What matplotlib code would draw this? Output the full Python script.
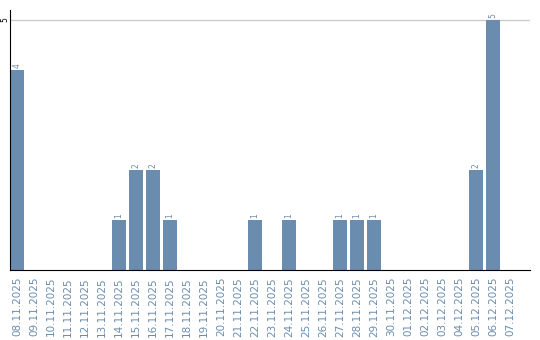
import matplotlib.pyplot as plt
import numpy as np

dates = ["08.11.2025", "09.11.2025", "10.11.2025", "11.11.2025", "12.11.2025",
         "13.11.2025", "14.11.2025", "15.11.2025", "16.11.2025", "17.11.2025",
         "18.11.2025", "19.11.2025", "20.11.2025", "21.11.2025", "22.11.2025",
         "23.11.2025", "24.11.2025", "25.11.2025", "26.11.2025", "27.11.2025",
         "28.11.2025", "29.11.2025", "30.11.2025", "01.12.2025", "02.12.2025",
         "03.12.2025", "04.12.2025", "05.12.2025", "06.12.2025", "07.12.2025"]
counts = [4, 0, 0, 0, 0, 0, 1, 2, 2, 1,
          0, 0, 0, 0, 1, 0, 1, 0, 0, 1,
          1, 1, 0, 0, 0, 0, 0, 2, 5, 0]

color = "#6a8caf"

fig = plt.figure(figsize=(5.4, 3.4), dpi=100)
ax = fig.add_axes([10 / 540, 70 / 340, 520 / 540, 260 / 340])

x = np.arange(len(dates))
ax.bar(x, counts, width=14 / 17, color=color, zorder=2)

# value labels on the non-empty days
for xi, v in zip(x, counts):
    if v > 0:
        ax.text(xi, v + 0.05, str(v), rotation=90, ha="center", va="bottom",
                fontsize=5.5, color=color)

ax.set_xlim(-7 / 17, 30.18)
ax.set_ylim(0, 5.2)

ax.set_yticks([5])
ax.set_yticklabels(["5"], rotation=90, ha="center", va="center", fontsize=5.5)
ax.tick_params(axis="y", length=0, pad=4)
ax.yaxis.grid(True, color="#cccccc", linewidth=1, zorder=0)

ax.set_xticks(x)
ax.set_xticklabels(dates, rotation=90, fontsize=7.5, color=color)
ax.tick_params(axis="x", length=0, pad=5)

ax.spines["top"].set_visible(False)
ax.spines["right"].set_visible(False)

fig.savefig("out.png", dpi=100)
